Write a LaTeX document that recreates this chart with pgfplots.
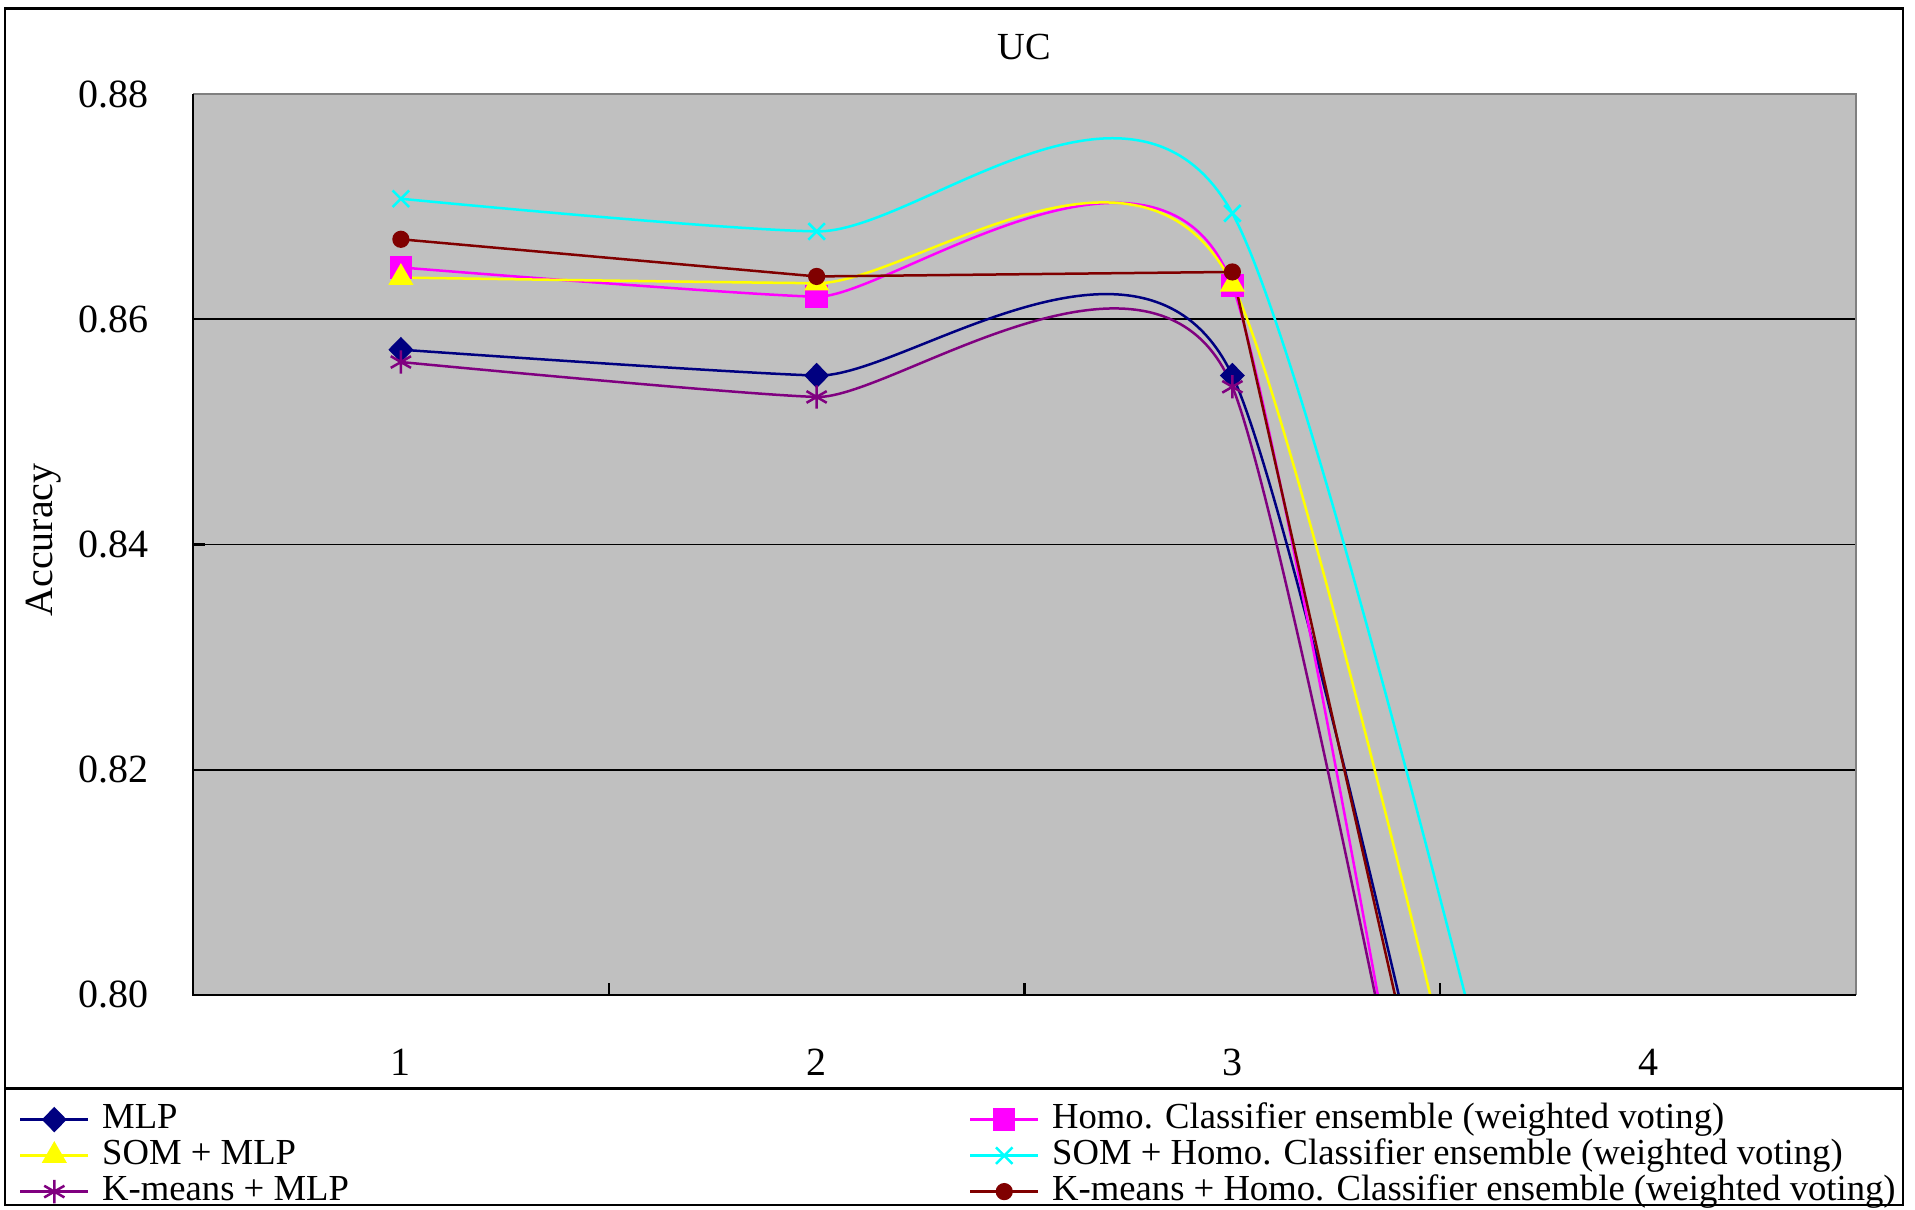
\documentclass[border=0pt]{standalone}
\usepackage{pgfplots}
\pgfplotsset{compat=1.18}
\usepackage{fontspec}
\setmainfont{Liberation Serif}
\definecolor{cMLP}{RGB}{0,0,128}
\definecolor{cSOM}{RGB}{255,255,0}
\definecolor{cKM}{RGB}{128,0,128}
\definecolor{cHomo}{RGB}{255,0,255}
\definecolor{cSOMH}{RGB}{0,255,255}
\definecolor{cKMH}{RGB}{128,0,0}
\definecolor{plotbg}{RGB}{192,192,192}
\definecolor{bordergray}{RGB}{128,128,128}
\begin{document}
\begin{tikzpicture}
\path (0,0) rectangle (574.5pt,363pt);
\draw[line width=0.8pt] (1.5pt,1.5pt) rectangle (570.9pt,360.5pt);
\draw[line width=0.8pt] (1.5pt,36.5pt) -- (570.9pt,36.5pt);
\begin{axis}[
  at={(57.9pt,64.5pt)}, anchor=south west,
  scale only axis, width=498.9pt, height=270.3pt,
  xmin=0.5, xmax=4.5, ymin=0.80, ymax=0.88,
  axis x line*=bottom, axis y line*=left,
  axis line style={line width=0.8pt},
  axis background/.style={fill=plotbg},
  tick align=inside,
  major tick length=3.5pt,
  tick style={black, line width=0.7pt},
  /pgf/number format/assume math mode=true,
  tick label style={font=\fontsize{12}{14}\selectfont},
  xtick={0.5,1.5,2.5,3.5,4.5}, xticklabels={},
  extra x ticks={1,2,3,4}, extra x tick labels={1,2,3,4},
  extra x tick style={major tick length=0pt, xticklabel style={anchor=base, yshift=-24.3pt}},
  ytick={0.80,0.82,0.84,0.86,0.88},
  yticklabel style={anchor=east, inner sep=0pt, xshift=-13pt,
    /pgf/number format/.cd, fixed, fixed zerofill, precision=2},
  ymajorgrids=true,
  major grid style={black, line width=0.5pt},
  title=UC,
  title style={at={(axis description cs:0.5,1)}, anchor=center, yshift=8.2pt, font=\fontsize{11.5}{13}\selectfont},
  ylabel=Accuracy,
  every axis y label/.style={at={(axis description cs:-0.0898,0.505)}, rotate=90, anchor=center, font=\fontsize{12}{14}\selectfont},
  legend columns=2,
  legend cell align=left,
  legend style={at={(axis description cs:-0.105,-0.1176)}, anchor=north west, draw=none, fill=none, inner sep=0pt,
    font=\fontsize{11}{13}\selectfont,
    nodes={inner xsep=3.8pt, inner ysep=0pt, text height=8.1pt, text depth=2.7pt},
    /tikz/column 2/.style={column sep=182.2pt}},
  legend image code/.code={\draw[mark repeat=2,mark phase=2] plot coordinates {(0pt,0pt) (10.2pt,0pt) (20.4pt,0pt)};},
  extra description/.code={
    \draw[bordergray, line width=0.8pt] (axis description cs:0,1) -- (axis description cs:1,1) -- (axis description cs:1,0);
    \draw[black, line width=0.8pt] (axis description cs:0,1) -- (axis description cs:0,0) -- (axis description cs:1,0);
  },
  every axis plot/.append style={line width=0.75pt},
]
\addplot[color=cMLP, smooth, tension=0.38, mark=diamond*, mark size=3.3pt, mark options={fill=cMLP, xscale=1.3}]
  coordinates {(1,0.8573) (2,0.8550) (3,0.8550) (4,0.6995)};
\addlegendentry{MLP}
\addplot[color=cHomo, smooth, tension=0.307, mark=square*, mark size=3pt, mark options={fill=cHomo}]
  coordinates {(1,0.8646) (2,0.8620) (3,0.8630) (4,0.661)};
\addlegendentry{Homo. Classifier ensemble (weighted voting)}
\addplot[color=cSOM, smooth, tension=0.40, mark=triangle*, mark size=3.6pt, mark options={fill=cSOM}]
  coordinates {(1,0.8637) (2,0.8632) (3,0.8631) (4,0.716)};
\addlegendentry{SOM + MLP}
\addplot[color=cSOMH, smooth, tension=0.43, mark=x, mark size=3.5pt]
  coordinates {(1,0.8707) (2,0.8678) (3,0.8694) (4,0.734)};
\addlegendentry{SOM + Homo. Classifier ensemble (weighted voting)}
\addplot[color=cKM, smooth, tension=0.33, mark=asterisk, mark size=3.5pt]
  coordinates {(1,0.8562) (2,0.8531) (3,0.8540) (4,0.6755)};
\addlegendentry{K-means + MLP}
\addplot[color=cKMH, sharp plot, mark=*, mark size=2.2pt, mark options={fill=cKMH}]
  coordinates {(1,0.8671) (2,0.8638) (3,0.8642) (4,0.700)};
\addlegendentry{K-means + Homo. Classifier ensemble (weighted voting)}
\end{axis}
\end{tikzpicture}
\end{document}
